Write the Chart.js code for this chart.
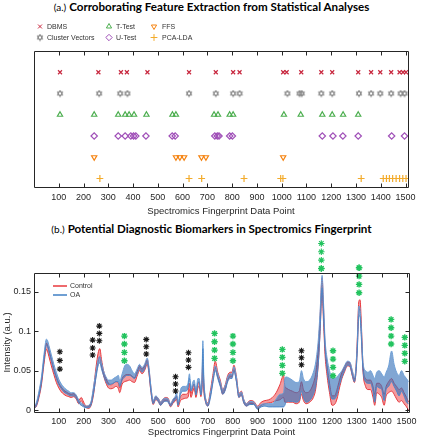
<!DOCTYPE html>
<html>
<head>
<meta charset="utf-8">
<script src="https://cdn.jsdelivr.net/npm/chart.js@4.4.0/dist/chart.umd.min.js"></script>
<style>
  body { margin: 0; background: #fff; width: 423px; height: 440px; position: relative; overflow: hidden; }
  .ttl { position: absolute; left: 0; width: 423px; text-align: center; font-family: Lato, sans-serif;
         font-size: 11.6px; line-height: 13px; color: #000; white-space: nowrap; }
  .ttl b { font-weight: 700; }
  .ttl span { font-weight: 400; font-size: 10px; }
  canvas { position: absolute; left: 0; }
</style>
</head>
<body>
<div class="ttl" style="top:0px"><span>(a.)</span> <b>Corroborating Feature Extraction from Statistical Analyses</b></div>
<canvas id="chartA" width="423" height="222" style="top:0"></canvas>
<div class="ttl" style="top:222px"><span>(b.)</span> <b>Potential Diagnostic Biomarkers in Spectromics Fingerprint</b></div>
<canvas id="chartB" width="423" height="204" style="top:236px"></canvas>

<script>
// ---- axes ----
const xTicks = [100, 200, 300, 400, 500, 600, 700, 800, 900, 1000, 1100, 1200, 1300, 1400, 1500];
const xTickLabels = ['100', '200', '300', '400', '500', '600', '700', '800', '900', '1000', '1100', '1200', '1300', '1400', '1500'];
const yTicks = [0, 0.05, 0.1, 0.15];
const yTickLabels = ['0', '0.05', '0.1', '0.15'];

// ---- (a) features picked by each method ----
const methods = ['DBMS', 'Cluster Vectors', 'T-Test', 'U-Test', 'FFS', 'PCA-LDA'];
const methodRows = [6, 5, 4, 3, 2, 1];
const dbmsX = [105, 260, 351, 375, 458, 626, 734, 804, 830, 1006, 1020, 1079, 1160, 1204, 1309, 1361, 1398, 1442, 1476, 1490, 1502];
const clusterX = [105, 263, 348, 377, 626, 734, 804, 830, 1023, 1072, 1081, 1160, 1204, 1312, 1361, 1398, 1442, 1480, 1496];
const ttestX = [105, 243, 340, 368, 384, 404, 454, 559, 573, 727, 743, 790, 804, 1009, 1077, 1164, 1204, 1248, 1309];
const utestX = [243, 340, 368, 391, 402, 411, 452, 558, 570, 730, 740, 747, 790, 801, 1164, 1207, 1247, 1309, 1444, 1496];
const ffsX = [243, 573, 589, 606, 676, 694, 1006];
const pcaX = [266, 626, 677, 848, 996, 1005, 1321, 1410, 1423, 1435, 1448, 1462, 1476, 1489, 1502];

// ---- (b) spectra: band edges for each group ----
const specX = [
  1, 10, 20, 30, 40, 50, 55, 60, 70, 80,
  90, 100, 110, 120, 130, 140, 150, 160, 170, 180,
  190, 200, 210, 220, 230, 240, 250, 258, 265, 272,
  280, 290, 300, 310, 320, 330, 340, 345, 355, 365,
  375, 385, 395, 405, 415, 425, 435, 445, 456, 463,
  470, 480, 490, 500, 510, 520, 530, 540, 550, 560,
  568, 574, 580, 590, 600, 610, 620, 626, 632, 640,
  645, 652, 660, 665, 672, 676, 680, 684, 690, 700,
  710, 720, 730, 740, 750, 760, 770, 780, 790, 797,
  805, 815, 825, 835, 845, 855, 870, 885, 900, 915,
  930, 945, 960, 975, 990, 1005, 1010, 1015, 1025, 1040,
  1055, 1068, 1077, 1085, 1095, 1110, 1125, 1135, 1145, 1152,
  1160, 1166, 1172, 1180, 1190, 1200, 1210, 1220, 1230, 1240,
  1250, 1262, 1272, 1282, 1290, 1296, 1302, 1308, 1313, 1318,
  1325, 1335, 1345, 1355, 1365, 1372, 1380, 1390, 1400, 1410,
  1418, 1428, 1440, 1450, 1460, 1470, 1480, 1490, 1500, 1508
];
const oaLo = [
  .002, .006, .018, .035, .062, .082, .080, .074, .062, .050,
  .040, .032, .027, .023, .021, .019, .018, .018, .015, .009,
  .006, .004, .003, .003, .007, .022, .042, .056, .060, .052,
  .044, .036, .032, .033, .034, .036, .036, .030, .038, .042,
  .044, .044, .042, .040, .046, .052, .048, .052, .060, .048,
  .026, .008, .014, .011, .006, .010, .011, .010, .005, .010,
  .013, .017, .006, .020, .024, .024, .028, .040, .024, .030,
  .033, .019, .034, .036, .019, .030, .078, .030, .012, .005,
  .015, .034, .050, .040, .030, .020, .025, .036, .040, .040,
  .049, .036, .016, .019, .009, .005, .007, .007, .001, .004,
  .005, .004, .004, .004, .004, .004, .006, .010, .011, .011,
  .010, .012, .024, .016, .010, .012, .020, .032, .060, .100,
  .155, .118, .078, .052, .028, .014, .014, .020, .032, .042,
  .050, .057, .056, .044, .036, .046, .076, .120, .118, .092,
  .050, .036, .034, .034, .024, .010, .030, .028, .026, .012,
  .026, .030, .036, .030, .024, .018, .024, .018, .010, .008
];
const oaHi = [
  .005, .010, .024, .042, .070, .090, .088, .082, .070, .058,
  .048, .039, .033, .029, .026, .024, .022, .022, .019, .013,
  .009, .007, .005, .006, .011, .030, .050, .064, .068, .060,
  .050, .042, .038, .038, .040, .042, .044, .037, .046, .056,
  .058, .056, .050, .046, .052, .058, .054, .058, .066, .054,
  .032, .012, .018, .015, .010, .014, .015, .014, .008, .014,
  .017, .022, .010, .026, .030, .030, .034, .046, .028, .036,
  .038, .024, .040, .040, .024, .036, .088, .040, .017, .008,
  .021, .040, .056, .046, .036, .026, .031, .042, .046, .045,
  .055, .042, .020, .023, .013, .008, .011, .010, .004, .007,
  .008, .008, .008, .014, .020, .022, .040, .042, .041, .038,
  .035, .036, .050, .040, .036, .038, .048, .062, .090, .125,
  .171, .135, .090, .066, .050, .040, .040, .042, .046, .050,
  .056, .062, .061, .050, .041, .052, .088, .132, .128, .104,
  .060, .050, .048, .050, .044, .040, .048, .050, .046, .042,
  .048, .056, .075, .058, .048, .044, .050, .044, .040, .036
];
const ctLo = [
  .002, .005, .016, .032, .058, .077, .074, .068, .056, .045,
  .035, .028, .023, .020, .018, .017, .016, .017, .014, .008,
  .012, .006, .003, .002, .006, .020, .045, .062, .068, .056,
  .044, .034, .028, .027, .028, .030, .027, .022, .033, .036,
  .037, .038, .036, .035, .043, .050, .046, .050, .058, .046,
  .025, .007, .013, .011, .006, .010, .012, .011, .004, .009,
  .011, .014, .004, .012, .014, .015, .016, .026, .016, .024,
  .028, .016, .028, .030, .017, .025, .055, .024, .011, .005,
  .018, .036, .054, .042, .032, .020, .026, .038, .042, .042,
  .051, .037, .016, .019, .009, .005, .008, .008, .002, .006,
  .008, .009, .010, .012, .013, .016, .010, .010, .010, .010,
  .008, .010, .020, .012, .008, .010, .016, .028, .060, .100,
  .150, .110, .070, .044, .022, .006, .007, .014, .028, .040,
  .048, .056, .055, .043, .035, .046, .080, .126, .128, .098,
  .048, .030, .026, .026, .016, .006, .022, .020, .016, .006,
  .018, .022, .024, .020, .014, .010, .012, .008, .004, .000
];
const ctHi = [
  .004, .008, .021, .038, .065, .085, .082, .076, .064, .052,
  .042, .034, .029, .025, .023, .021, .020, .021, .018, .012,
  .016, .010, .005, .005, .010, .028, .055, .072, .078, .064,
  .050, .040, .034, .032, .034, .036, .034, .028, .040, .044,
  .045, .045, .043, .041, .049, .056, .052, .056, .064, .052,
  .031, .011, .017, .015, .010, .014, .016, .015, .007, .013,
  .015, .018, .008, .017, .020, .020, .022, .034, .021, .030,
  .033, .021, .034, .035, .022, .032, .065, .032, .016, .009,
  .024, .044, .062, .048, .038, .026, .032, .044, .048, .048,
  .057, .043, .021, .024, .013, .008, .012, .011, .005, .010,
  .012, .013, .016, .022, .032, .044, .030, .028, .026, .024,
  .022, .024, .036, .026, .022, .024, .034, .048, .080, .118,
  .168, .128, .082, .056, .034, .018, .018, .026, .038, .048,
  .055, .061, .060, .049, .040, .052, .092, .138, .140, .110,
  .056, .040, .038, .038, .030, .020, .034, .034, .030, .020,
  .030, .036, .040, .034, .030, .026, .028, .022, .016, .010
];

// ---- (b) significance asterisks ----
const blackStarX = [104, 104, 104, 236, 236, 236, 263, 263, 263, 452, 452, 452, 570, 570, 570, 622, 622, 622, 1077, 1077, 1077];
const blackStarY = [0.074, 0.063, 0.052, 0.0888, 0.0788, 0.0698, 0.1066, 0.0973, 0.0879, 0.0897, 0.0803, 0.0711,
                    0.0423, 0.0330, 0.0241, 0.0727, 0.0635, 0.0542, 0.0753, 0.0664, 0.0575];
const greenStarX = [364, 364, 364, 364, 727, 727, 727, 727, 801, 801, 801, 801, 1000, 1000, 1000, 1000,
                    1157, 1157, 1157, 1157, 1204, 1204, 1204, 1204, 1309, 1309, 1309, 1309,
                    1438, 1438, 1438, 1438, 1493, 1493, 1493, 1493];
const greenStarY = [0.0939, 0.0838, 0.0732, 0.0626, 0.0973, 0.0867, 0.0761, 0.0656, 0.0939, 0.0838, 0.0732, 0.0626,
                    0.0770, 0.0669, 0.0567, 0.0466, 0.2115, 0.2009, 0.1904, 0.1798, 0.0753, 0.0647, 0.0542, 0.0435,
                    0.1806, 0.1700, 0.1595, 0.1489, 0.1151, 0.1044, 0.0939, 0.0838, 0.0922, 0.0821, 0.0720, 0.0618];

Chart.defaults.font.family = "'Liberation Sans', Arial, sans-serif";
Chart.defaults.color = '#262626';

// hexagram marker for the cluster vectors row
function hexagram(size, color) {
  const c = document.createElement('canvas');
  c.width = size; c.height = size;
  const g = c.getContext('2d');
  const r = size / 2 - 0.8, cx = size / 2, cy = size / 2;
  g.strokeStyle = color; g.lineWidth = 1;
  [-Math.PI / 2, Math.PI / 2].forEach(function(off) {
    g.beginPath();
    for (let k = 0; k < 3; k++) {
      const a = off + k * 2 * Math.PI / 3;
      const px = cx + r * Math.cos(a), py = cy + r * Math.sin(a);
      if (k) g.lineTo(px, py); else g.moveTo(px, py);
    }
    g.closePath(); g.stroke();
  });
  return c;
}

// box round the plot with MATLAB-style inward ticks
const boxPlugin = {
  id: 'box',
  afterDatasetsDraw(chart, args, opts) {
    const ctx = chart.ctx, a = chart.chartArea;
    const L = Math.round(a.left) + 0.5, R = Math.round(a.right) + 0.5;
    const T = Math.round(a.top) + 0.5, B = Math.round(a.bottom) + 0.5;
    ctx.save();
    ctx.strokeStyle = '#262626';
    ctx.lineWidth = 1;
    ctx.beginPath();
    ctx.rect(L, T, R - L, B - T);
    chart.scales.x.ticks.forEach(function(t) {
      const px = Math.round(chart.scales.x.getPixelForValue(t.value)) + 0.5;
      ctx.moveTo(px, B); ctx.lineTo(px, B - 4);
      ctx.moveTo(px, T); ctx.lineTo(px, T + 4);
    });
    if (opts.yTicks) {
      chart.scales.y.ticks.forEach(function(t) {
        const py = Math.round(chart.scales.y.getPixelForValue(t.value)) + 0.5;
        ctx.moveTo(L, py); ctx.lineTo(L + 4, py);
        ctx.moveTo(R, py); ctx.lineTo(R - 4, py);
      });
    }
    ctx.stroke();
    ctx.restore();
  }
};

// Chart.js skips points outside the plot; the star columns over the tall
// peaks sit above the axes, so paint those from the dataset's own elements
const overflowStars = {
  id: 'overflowStars',
  afterDatasetsDraw(chart) {
    const ctx = chart.ctx, top = chart.chartArea.top;
    chart.data.datasets.forEach(function(ds, i) {
      if (ds.pointStyle !== 'star') return;
      chart.getDatasetMeta(i).data.forEach(function(el) {
        if (el.y >= top) return;
        ctx.save();
        ctx.strokeStyle = ds.borderColor;
        ctx.fillStyle = ds.backgroundColor;
        Chart.helpers.drawPoint(ctx, { pointStyle: 'star', radius: ds.pointRadius, rotation: 0, borderWidth: ds.borderWidth }, el.x, el.y);
        ctx.restore();
      });
    });
  }
};

// legend of (a): two rows, three columns
const legendA = {
  id: 'legendA',
  afterDraw(chart) {
    const ctx = chart.ctx;
    const colMark = [40, 109, 154], colText = [47, 116, 162], rowY = [26.5, 37.5];
    ctx.save();
    ctx.font = "7px 'Liberation Sans', Arial, sans-serif";
    ctx.textBaseline = 'middle';
    chart.data.datasets.forEach(function(ds, i) {
      const col = Math.floor(i / 2), row = i % 2;
      ctx.strokeStyle = ds.borderColor;
      ctx.fillStyle = 'rgba(0,0,0,0)';
      Chart.helpers.drawPoint(ctx, {
        pointStyle: ds.pointStyle, radius: ds.pointRadius, rotation: ds.rotation || 0, borderWidth: ds.borderWidth
      }, colMark[col], rowY[row]);
      ctx.fillStyle = '#333';
      ctx.fillText(ds.label, colText[col], rowY[row] + 0.5);
    });
    ctx.restore();
  }
};

// legend of (b)
const legendB = {
  id: 'legendB',
  afterDraw(chart) {
    const ctx = chart.ctx;
    const items = [['Control', '#e8383d'], ['OA', '#3f7fc4']];
    ctx.save();
    ctx.font = "7px 'Liberation Sans', Arial, sans-serif";
    ctx.textBaseline = 'middle';
    items.forEach(function(it, i) {
      const y = 50 + i * 9;
      ctx.strokeStyle = it[1]; ctx.lineWidth = 1.5;
      ctx.beginPath(); ctx.moveTo(53, y); ctx.lineTo(67, y); ctx.stroke();
      ctx.fillStyle = '#333';
      ctx.fillText(it[0], 70, y + 0.5);
    });
    ctx.restore();
  }
};

function xAxis(height, titlePad, labelPad) {
  return {
    type: 'linear', min: 0, max: 1510,
    afterBuildTicks: function(s) { s.ticks = xTicks.map(function(v) { return { value: v }; }); },
    afterFit: function(s) { s.height = height; },
    grid: { display: false, drawTicks: false },
    border: { display: false },
    ticks: {
      autoSkip: false, maxRotation: 0, padding: labelPad,
      font: { size: 9 },
      callback: function(v, i) { return xTickLabels[i]; }
    },
    title: { display: true, text: 'Spectromics Fingerprint Data Point', font: { size: 9.5 }, padding: { top: 0, bottom: titlePad } }
  };
}

// ---- chart (a) ----
const hexImg = hexagram(8, '#8a8a8a');
const rowData = function(xs, row) { return xs.map(function(x) { return { x: x, y: row }; }); };

new Chart(document.getElementById('chartA'), {
  type: 'scatter',
  data: {
    datasets: [
      { label: methods[0], data: rowData(dbmsX, methodRows[0]), pointStyle: 'crossRot', pointRadius: 2.8, borderColor: '#c8283f', borderWidth: 1.2 },
      { label: methods[1], data: rowData(clusterX, methodRows[1]), pointStyle: hexImg, pointRadius: 4, borderColor: '#8a8a8a', borderWidth: 1 },
      { label: methods[2], data: rowData(ttestX, methodRows[2]), pointStyle: 'triangle', pointRadius: 3, borderColor: '#4cae4f', borderWidth: 1.2 },
      { label: methods[3], data: rowData(utestX, methodRows[3]), pointStyle: 'rectRot', pointRadius: 3.2, borderColor: '#a050b8', borderWidth: 1.2 },
      { label: methods[4], data: rowData(ffsX, methodRows[4]), pointStyle: 'triangle', rotation: 180, pointRadius: 3, borderColor: '#f5820f', borderWidth: 1.2 },
      { label: methods[5], data: rowData(pcaX, methodRows[5]), pointStyle: 'cross', pointRadius: 3.4, borderColor: '#f3ab2b', borderWidth: 1.2 }
    ].map(function(ds) { ds.backgroundColor = 'rgba(0,0,0,0)'; ds.pointRotation = ds.rotation || 0; return ds; })
  },
  options: {
    responsive: false, animation: false,
    layout: { padding: { left: 34, right: 15, top: 51, bottom: 0 } },
    plugins: { legend: { display: false }, tooltip: { enabled: false }, box: { yTicks: false } },
    scales: {
      x: xAxis(35, 5, 5),
      y: { display: false, min: 0.6, max: 7 }
    }
  },
  plugins: [boxPlugin, legendA]
});

// ---- chart (b) ----
// Chart.js paints the first dataset last, so stars come first and OA sits above Control
const series = function(ys) { return specX.map(function(x, i) { return { x: x, y: ys[i] }; }); };
const stars = function(xs, ys) { return xs.map(function(x, i) { return { x: x, y: ys[i] }; }); };
const lineDs = function(label, ys, color, fill, fillColor) {
  return { label: label, data: series(ys), borderColor: color, borderWidth: 1, pointRadius: 0,
           fill: fill, backgroundColor: fillColor, cubicInterpolationMode: 'monotone' };
};

new Chart(document.getElementById('chartB'), {
  type: 'line',
  data: {
    datasets: [
      { type: 'scatter', label: 'p', data: stars(blackStarX, blackStarY), pointStyle: 'star', pointRadius: 3,
        borderColor: '#1a1a1a', borderWidth: 1.1, backgroundColor: '#1a1a1a', showLine: false, clip: false },
      { type: 'scatter', label: 'q', data: stars(greenStarX, greenStarY), pointStyle: 'star', pointRadius: 3.2,
        borderColor: '#22c35e', borderWidth: 1.4, backgroundColor: '#22c35e', showLine: false, clip: false },
      lineDs('OA', oaLo, '#4b86c8', false, 'rgba(0,0,0,0)'),
      lineDs('OA', oaHi, '#6d9fd6', '-1', 'rgba(52,112,184,0.62)'),
      lineDs('Control', ctLo, '#e8383d', false, 'rgba(0,0,0,0)'),
      lineDs('Control', ctHi, '#e8383d', '-1', 'rgba(232,56,61,0.5)')
    ]
  },
  options: {
    responsive: false, animation: false,
    layout: { padding: { left: 0, right: 14, top: 37, bottom: 0 } },
    plugins: { legend: { display: false }, tooltip: { enabled: false }, box: { yTicks: true } },
    scales: {
      x: xAxis(28, 2, 4),
      y: {
        min: -0.0025, max: 0.174,
        afterBuildTicks: function(s) { s.ticks = yTicks.map(function(v) { return { value: v }; }); },
        afterFit: function(s) { s.width = 34; },
        grid: { display: false, drawTicks: false },
        border: { display: false },
        ticks: { padding: 3, font: { size: 9 }, callback: function(v, i) { return yTickLabels[i]; } },
        title: { display: true, text: 'Intensity (a.u.)', font: { size: 9.5 }, padding: { top: 2, bottom: 0 } }
      }
    }
  },
  plugins: [boxPlugin, overflowStars, legendB]
});
</script>
</body>
</html>
